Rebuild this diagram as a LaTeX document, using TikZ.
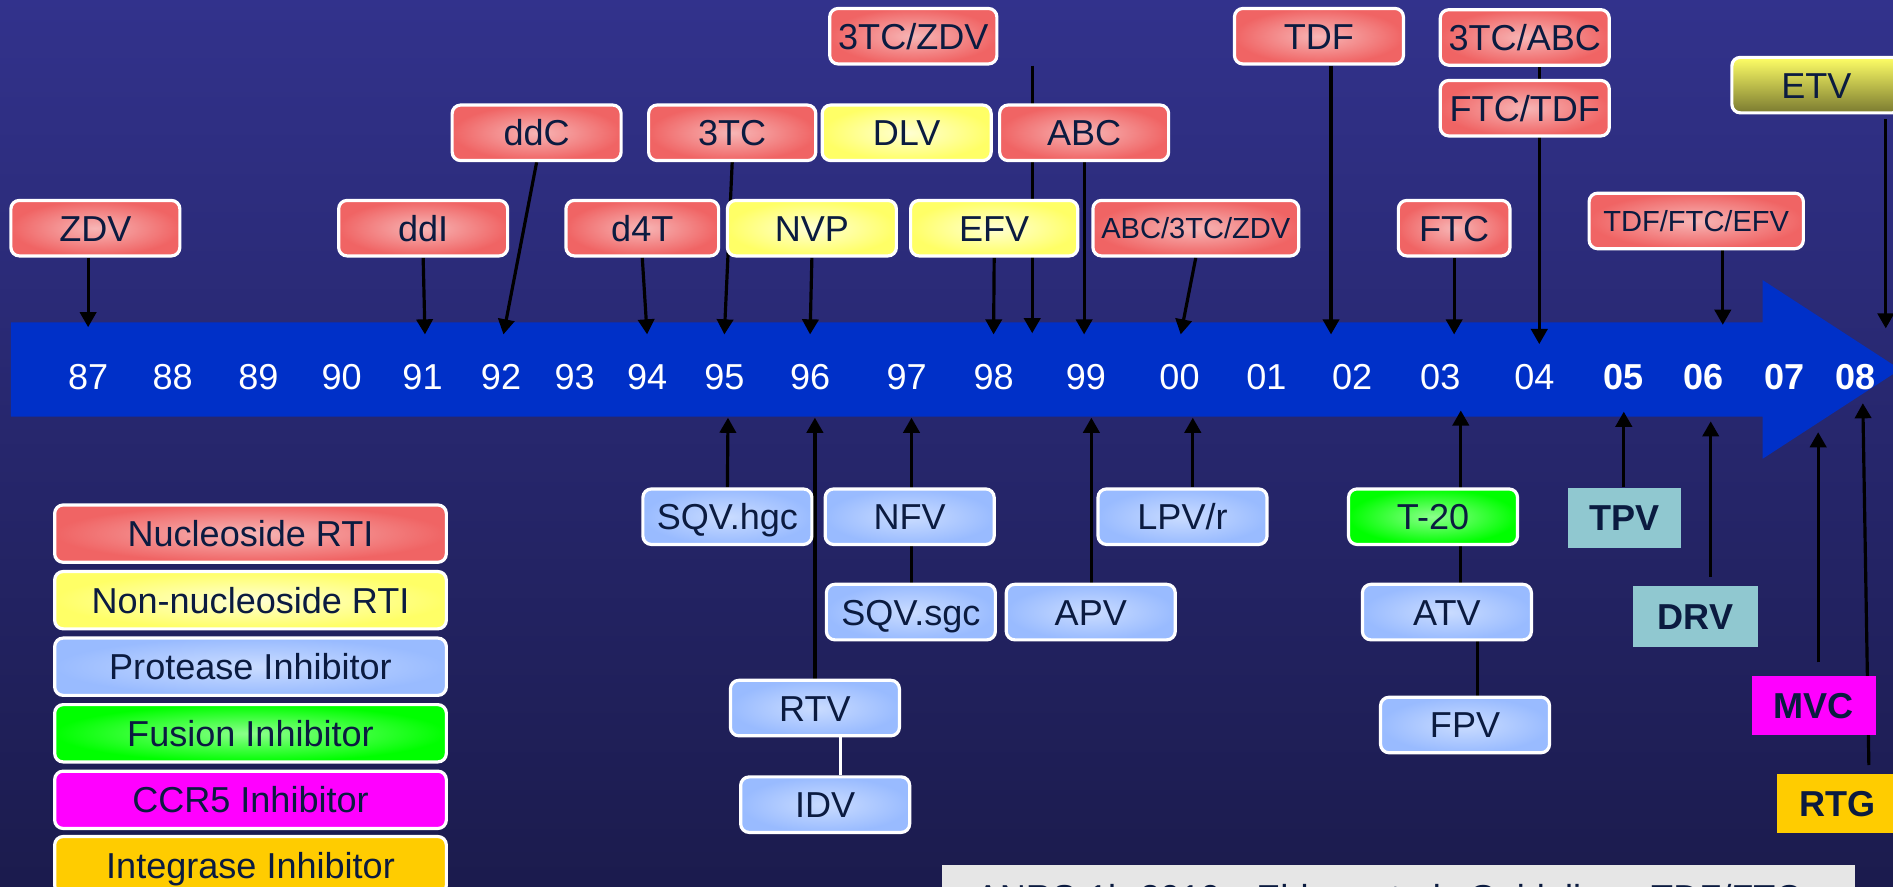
\documentclass[tikz,border=0pt]{standalone}
\usepackage{fontspec}
\setmainfont{Liberation Sans}
\usetikzlibrary{positioning,arrows.meta}

\definecolor{ink}{RGB}{11,27,64}
\definecolor{bgtop}{RGB}{50,50,140}
\definecolor{bgbot}{RGB}{27,27,77}
\definecolor{barblue}{RGB}{0,48,200}
\definecolor{nrtiout}{RGB}{240,100,100}
\definecolor{nrtiin}{RGB}{247,182,182}
\definecolor{nnrtiout}{RGB}{255,255,102}
\definecolor{nnrtiin}{RGB}{255,255,212}
\definecolor{piout}{RGB}{153,187,255}
\definecolor{piin}{RGB}{202,220,255}
\definecolor{fiout}{RGB}{0,255,0}
\definecolor{fiin}{RGB}{140,255,140}
\definecolor{ccrfill}{RGB}{255,0,255}
\definecolor{intfill}{RGB}{255,204,0}
\definecolor{newpi}{RGB}{144,200,208}
\definecolor{etvtop}{RGB}{255,255,102}
\definecolor{etvbot}{RGB}{122,122,48}
\definecolor{footgray}{RGB}{230,230,230}

\pgfdeclarelayer{bg}
\pgfdeclarelayer{links}
\pgfsetlayers{bg,links,main}

\begin{document}
\begin{tikzpicture}[
  x=0.02cm, y=-0.02cm,
  font=\fontsize{17}{20}\selectfont,
  drug/.style={draw=white, line width=1.5pt, rounded corners=4pt, inner sep=0pt,
    minimum width=2.8cm, minimum height=0.92cm, text=ink, text height=12.2pt, text depth=0pt},
  nrti/.style={drug, inner color=nrtiin, outer color=nrtiout},
  nnrti/.style={drug, inner color=nnrtiin, outer color=nnrtiout},
  pibox/.style={drug, inner color=piin, outer color=piout},
  fibox/.style={drug, inner color=fiin, outer color=fiout},
  ccrbox/.style={drug, fill=ccrfill},
  intbox/.style={drug, fill=intfill},
  etvbox/.style={drug, top color=etvtop, bottom color=etvbot},
  flat/.style={inner sep=0pt, text=ink, text height=12.2pt, text depth=0pt,
    font=\fontsize{17}{20}\selectfont\bfseries},
  smalltxt/.style={font=\fontsize{13.7}{16}\selectfont, text height=9.9pt},
  legbox/.style={minimum width=6.49cm, minimum height=0.95cm},
  yearlbl/.style={text=white, text height=12.2pt, text depth=0pt},
  footbox/.style={fill=footgray, text=ink, inner xsep=0.56cm, inner ysep=0.33cm,
    text width=14cm, align=left, anchor=north west},
  drugarrow/.style={-{Triangle[length=0.25cm,width=0.27cm]}, line width=1.5pt, black},
  joinline/.style={line width=1.5pt, black}
]
  \useasboundingbox (0,0) rectangle (1568,734);

  % backdrop and time bar
  \begin{pgfonlayer}{bg}
    \shade[top color=bgtop, bottom color=bgbot] (0,0) rectangle (1568,734);
    \fill[barblue] (9,267) -- (1460,267) -- (1460,232) -- (1574,306)
      -- (1460,380) -- (1460,345) -- (9,345) -- cycle;
  \end{pgfonlayer}

  % years
  \foreach \yr/\xx in {87/73, 88/143, 89/214, 90/283, 91/350, 92/415, 93/476, 94/536,
      95/600, 96/671, 97/751, 98/823, 99/899.5, 00/977, 01/1049, 02/1120, 03/1193, 04/1271}
    \node[yearlbl] (y\yr) at (\xx,312) {\yr};
  \foreach \yr/\xx in {05/1345, 06/1411, 07/1478, 08/1537}
    \node[yearlbl, font=\fontsize{17}{20}\selectfont\bfseries] (y\yr) at (\xx,312) {\yr};

  % approvals above the bar
  \node[nrti] (zdv) at (79,189) {ZDV};
  \node[nrti] (ddi) at (350.5,189) {ddI};
  \node[nrti, minimum width=2.53cm] (dft) at (532,189) {d4T};
  \node[nnrti] (nvp) at (672.5,189) {NVP};
  \node[nnrti, minimum width=2.77cm] (efv) at (823.5,189) {EFV};
  \node[nrti, smalltxt, minimum width=3.41cm] (abczdv) at (990.5,189) {ABC/3TC/ZDV};
  \node[nrti, minimum width=1.85cm] (ftc) at (1204.5,189) {FTC};
  \node[nrti, smalltxt, minimum width=3.55cm] (tdfefv) at (1405,183) {TDF/FTC/EFV};

  \node[nrti] (ddc) at (444.5,110) {ddC};
  \node[nrti, minimum width=2.77cm] (tc) at (606.5,110) {3TC};
  \node[nnrti] (dlv) at (751,110) {DLV};
  \node[nrti] (abc) at (898,110) {ABC};

  \node[nrti, minimum width=2.77cm] (tczdv) at (756.5,30) {3TC/ZDV};
  \node[nrti] (tdf) at (1092.5,30) {TDF};
  \node[nrti] (tcabc) at (1263,31) {3TC/ABC};
  \node[nrti, below=0.2cm of tcabc] (ftctdf) {FTC/TDF};
  \node[etvbox] (etv) at (1504.5,70.5) {ETV};

  % approvals below the bar
  \node[pibox] (sqvh) at (602.5,428) {SQV.hgc};
  \node[pibox] (nfv) at (753.5,428) {NFV};
  \node[pibox] (lpv) at (979.5,428) {LPV/r};
  \node[pibox] (sqvs) at (754.5,507) {SQV.sgc};
  \node[pibox] (apv) at (903.5,507) {APV};
  \node[pibox] (rtv) at (675,586.5) {RTV};
  \node[pibox] (idv) at (683.5,666.5) {IDV};
  \node[fibox] (tvingt) at (1187,428) {T-20};
  \node[pibox] (atv) at (1198.5,507) {ATV};
  \node[pibox] (fpv) at (1213.5,600.5) {FPV};
  \node[flat, fill=newpi, minimum width=1.86cm, minimum height=1cm] (tpv) at (1345.5,429) {TPV};
  \node[flat, fill=newpi, minimum width=2.06cm, minimum height=1.02cm] (drv) at (1404.5,510.5) {DRV};
  \node[flat, fill=ccrfill, minimum width=2.06cm, minimum height=0.98cm] (mvc) at (1502.5,584.5) {MVC};
  \node[flat, fill=intfill, minimum width=2cm, minimum height=0.98cm] (rtg) at (1522,665.5) {RTG};

  % legend
  \node[nrti, legbox] (lnrti) at (207.5,442) {Nucleoside RTI};
  \node[nnrti, legbox, below=0.1cm of lnrti] (lnnrti) {Non-nucleoside RTI};
  \node[pibox, legbox, below=0.1cm of lnnrti] (lpi) {Protease Inhibitor};
  \node[fibox, legbox, below=0.1cm of lpi] (lfi) {Fusion Inhibitor};
  \node[ccrbox, legbox, below=0.1cm of lfi] (lccr) {CCR5 Inhibitor};
  \node[intbox, legbox, below=0.08cm of lccr] (lint) {Integrase Inhibitor};

  \node[footbox] (src) at (780,716) {ANRS 1b 2010 - Ehlers et al. Guidelines TDF/FTC};

  % where the arrows meet the bar
  \foreach \n/\xx/\yy in {zdv/73/271, ddi/352/277, ddc/417/277, dft/536/277, tc/600/277,
      nvp/671/277, efv/823/277, tczdv/855/276, abc/898/277, abczdv/978/277, tdf/1102.5/277,
      ftc/1204.5/277, ftctdf/1275/285, tdfefv/1427/269, etv/1562/272,
      sqvh/603/346, rtv/675/346, nfv/755/346, apv/904/346, lpv/988/346,
      tvingt/1210/340, tpv/1345/341, drv/1417/349, mvc/1506/358, rtg/1543/334}
    \coordinate (\n-tip) at (\xx,\yy);
  \path (fpv.north) ++(10,0) coordinate (fpvlink);
  \path (idv.north) ++(12.5,0) coordinate (idvlink);

  \begin{pgfonlayer}{links}
    \draw[drugarrow] (zdv-tip |- zdv.south) -- (zdv-tip);
    \draw[drugarrow] (ddi.south) -- (ddi-tip);
    \draw[drugarrow] (ddc.south) -- (ddc-tip);
    \draw[drugarrow] (dft.south) -- (dft-tip);
    \draw[drugarrow] (tc.south) -- (tc-tip);
    \draw[drugarrow] (nvp.south) -- (nvp-tip);
    \draw[drugarrow] (efv.south) -- (efv-tip);
    \draw[drugarrow] (tczdv-tip |- tczdv.south) -- (tczdv-tip);
    \draw[drugarrow] (abc.south) -- (abc-tip);
    \draw[drugarrow] (abczdv.south) -- (abczdv-tip);
    \draw[drugarrow] (tdf-tip |- tdf.south) -- (tdf-tip);
    \draw[drugarrow] (ftc.south) -- (ftc-tip);
    \draw[drugarrow] (ftctdf-tip |- tcabc.south) -- (ftctdf-tip);
    \draw[drugarrow] (tdfefv-tip |- tdfefv.south) -- (tdfefv-tip);
    \draw[drugarrow] (etv-tip |- etv.south) ++(0,4) -- (etv-tip);

    \draw[drugarrow] (sqvh.north) -- (sqvh-tip);
    \draw[drugarrow] (rtv.north) -- (rtv-tip);
    \draw[drugarrow] (nfv-tip |- sqvs.north) -- (nfv-tip);
    \draw[drugarrow] (apv-tip |- apv.north) -- (apv-tip);
    \draw[drugarrow] (lpv-tip |- lpv.north) -- (lpv-tip);
    \draw[drugarrow] (tvingt-tip |- atv.north) -- (tvingt-tip);
    \draw[joinline] (fpvlink) -- (fpvlink |- atv.south);
    \draw[joinline, white] (idvlink) -- (idvlink |- rtv.south);
    \draw[drugarrow] (tpv-tip |- tpv.north) -- (tpv-tip);
    \draw[drugarrow] (drv-tip |- drv.north) ++(0,-7) -- (drv-tip);
    \draw[drugarrow] (mvc-tip |- mvc.north) ++(0,-11) -- (mvc-tip);
    \draw[drugarrow] (rtg.north) ++(26,-7) -- (rtg-tip);
  \end{pgfonlayer}
\end{tikzpicture}
\end{document}
